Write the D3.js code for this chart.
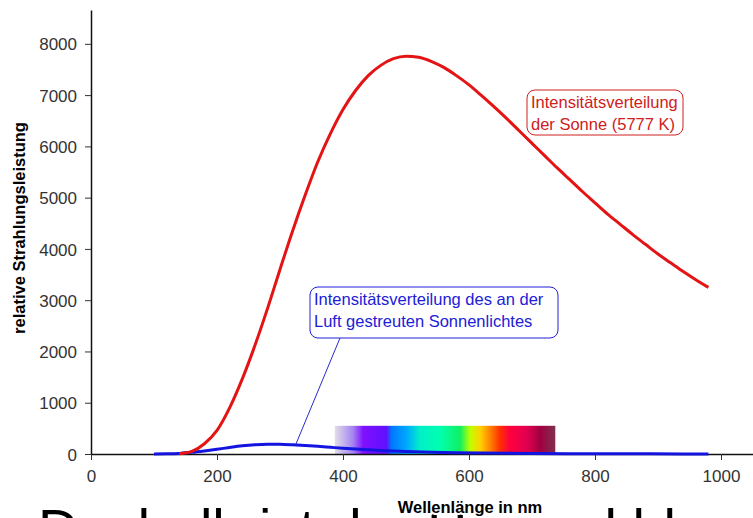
<!DOCTYPE html>
<meta charset="utf-8">
<script src="https://d3js.org/d3.v7.min.js"></script>
<style>
  body { margin: 0; background: #fff; }
  svg { font-family: "Liberation Sans", Arial, sans-serif; }
  .tick text { fill: #333; font-size: 17px; }
  .axis-label { font-weight: bold; font-size: 16.5px; fill: #000; }
</style>
<body>
<div id="chart"></div>
<script>
// wavelength (nm) and relative radiant power
var sunNm  = [140, 160, 180, 200, 220, 240, 260, 280, 300, 320, 340, 360, 380, 400, 420, 440, 460, 480, 500,
              520, 540, 560, 580, 600, 620, 640, 660, 680, 700, 720, 740, 760, 780, 800, 820, 840, 860, 880,
              900, 920, 940, 960, 980];
var sunVal = [5, 50, 200, 460, 900, 1460, 2110, 2830, 3600, 4350, 5050, 5700, 6250, 6720, 7090, 7380, 7580,
              7710, 7760, 7740, 7660, 7540, 7380, 7200, 6990, 6770, 6540, 6300, 6060, 5820, 5580, 5350, 5120,
              4900, 4680, 4480, 4280, 4090, 3900, 3730, 3560, 3400, 3250];

var skyNm  = [100, 120, 140, 160, 180, 200, 220, 240, 260, 280, 300, 320, 340, 360, 380, 400, 420, 440, 460,
              480, 500, 540, 580, 620, 660, 700, 760, 820, 880, 940, 980];
var skyVal = [0, 3, 12, 32, 60, 92, 128, 160, 182, 192, 190, 180, 166, 150, 131, 112, 96, 82, 70, 59, 50, 36,
              26, 19, 14, 10, 7, 5, 3, 2, 2];

// visible spectrum strip
var stripNm   = [387, 737];
var stripTop  = 550;
var stopNm    = [387, 416, 432, 469, 477, 501, 522, 554, 586, 602, 618, 634, 649, 665, 692, 713, 737];
var stopColor = ["#e2dee8", "#a484f2", "#8010ff", "#6010ff", "#0078ff", "#00a8ff", "#00f0c8", "#00ffb0",
                 "#10f060", "#c0ff00", "#ffd000", "#ff8000", "#ff3000", "#ff0040", "#e00050", "#a00040",
                 "#803050"];

var xTicks = [0, 200, 400, 600, 800, 1000];
var yTicks = [0, 1000, 2000, 3000, 4000, 5000, 6000, 7000, 8000];

var width = 753, height = 518;

var svg = d3.select("#chart").append("svg")
    .attr("width", width)
    .attr("height", height);

var x = d3.scaleLinear().domain([0, 1050]).range([91, 752.5]);
var y = d3.scaleLinear().domain([0, 8660]).range([454, 10]);

// cut-off slide text behind the chart
svg.append("text")
    .attr("x", 38)
    .attr("y", 548)
    .attr("fill", "#000")
    .style("font-size", "56px")
    .text("Deshalb ist der Himmel blau");

// gradient for spectrum strip
var grad = svg.append("defs").append("linearGradient")
    .attr("id", "spec")
    .attr("gradientUnits", "userSpaceOnUse")
    .attr("x1", x(stripNm[0])).attr("x2", x(stripNm[1]))
    .attr("y1", 0).attr("y2", 0);
grad.selectAll("stop")
    .data(stopNm)
    .enter().append("stop")
    .attr("offset", function(d) { return (d - stripNm[0]) / (stripNm[1] - stripNm[0]); })
    .attr("stop-color", function(d, i) { return stopColor[i]; });

svg.append("rect")
    .attr("x", x(stripNm[0]))
    .attr("y", y(stripTop))
    .attr("width", x(stripNm[1]) - x(stripNm[0]))
    .attr("height", y(0) - y(stripTop))
    .attr("fill", "url(#spec)");

// axes
var xAxis = svg.append("g")
    .attr("transform", "translate(0," + y(0) + ")")
    .call(d3.axisBottom(x).tickValues(xTicks).tickFormat(d3.format("d"))
      .tickSize(6).tickSizeOuter(0).tickPadding(10));
var yAxis = svg.append("g")
    .attr("transform", "translate(" + x(0) + ",0)")
    .call(d3.axisLeft(y).tickValues(yTicks).tickFormat(d3.format("d"))
      .tickSize(6).tickSizeOuter(0).tickPadding(8));
svg.selectAll(".domain").attr("stroke", "#111").attr("stroke-width", 1.5);
svg.selectAll(".tick line").attr("stroke", "#333");
svg.selectAll(".tick text").attr("font-family", null).attr("font-size", null);
yAxis.selectAll(".tick text").attr("dy", "0.36em");

var line = d3.line()
    .x(function(d) { return x(d[0]); })
    .y(function(d) { return y(d[1]); })
    .curve(d3.curveMonotoneX);

svg.append("path")
    .datum(d3.zip(skyNm, skyVal))
    .attr("d", line)
    .attr("fill", "none")
    .attr("stroke", "#1414e0")
    .attr("stroke-width", 3);

svg.append("path")
    .datum(d3.zip(sunNm, sunVal))
    .attr("d", line)
    .attr("fill", "none")
    .attr("stroke", "#e41414")
    .attr("stroke-width", 3);

// axis titles
svg.append("text")
    .attr("class", "axis-label")
    .attr("text-anchor", "middle")
    .attr("transform", "translate(25,228)rotate(-90)")
    .text("relative Strahlungsleistung");

svg.append("text")
    .attr("class", "axis-label")
    .attr("text-anchor", "middle")
    .attr("x", 470)
    .attr("y", 513)
    .attr("stroke", "#fff")
    .attr("stroke-width", 4)
    .attr("paint-order", "stroke")
    .text("Wellenlänge in nm");

// annotations
function note(bx, by, bw, bh, color, lines) {
  svg.append("rect")
      .attr("x", bx).attr("y", by)
      .attr("width", bw).attr("height", bh)
      .attr("rx", 8)
      .attr("fill", "#fff")
      .attr("stroke", color)
      .attr("stroke-width", 1);
  svg.append("text")
      .attr("fill", color)
      .style("font-size", "16.5px")
      .selectAll("tspan")
      .data(lines)
      .enter().append("tspan")
      .attr("x", bx + 4)
      .attr("y", function(d, i) { return by + 18 + i * 22; })
      .text(function(d) { return d; });
}

// leader line from blue note to blue curve
var skyAnchorNm = 325;
svg.append("line")
    .attr("x1", 340).attr("y1", 338)
    .attr("x2", x(skyAnchorNm))
    .attr("y2", y(d3.zip(skyNm, skyVal).find(function(d) { return d[0] >= skyAnchorNm; })[1]) - 1)
    .attr("stroke", "#2a2ad0")
    .attr("stroke-width", 1);

note(527, 90, 156, 45, "#d02020", ["Intensitätsverteilung", "der Sonne (5777 K)"]);
note(310, 287, 248, 51, "#2020d8", ["Intensitätsverteilung des an der", "Luft gestreuten Sonnenlichtes"]);
</script>
</body>
